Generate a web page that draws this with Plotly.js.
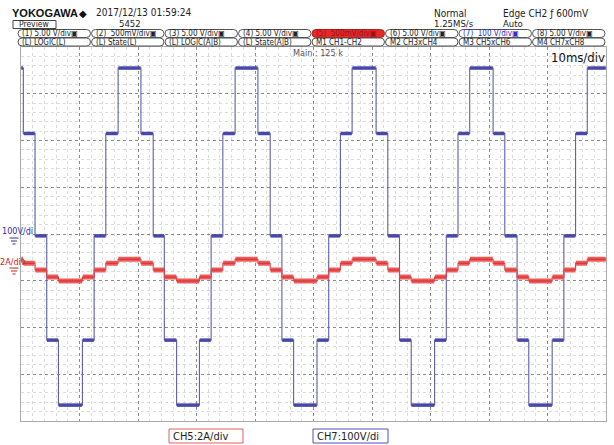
<!DOCTYPE html>
<html><head><meta charset="utf-8">
<script src="https://cdn.plot.ly/plotly-3.0.1.min.js"></script>
<style>html,body{margin:0;padding:0;background:#fff;}#plot{width:614px;height:445px;}</style>
</head><body><div id="plot"></div>
<script>
// ---- data (time in ms, 10 ms/div) ----
const edgeTimes = [0, 0.4, 2.4, 4.4, 6.4, 10.5, 12.5, 14.5,
  16.6, 20.5, 22.6, 24.5, 26.6, 30.5, 32.5, 34.5,
  36.6, 40.5, 42.6, 44.6, 46.6, 50.6, 52.6, 54.6,
  56.6, 60.7, 62.7, 64.7, 66.7, 70.7, 72.7, 74.7,
  76.7, 80.7, 82.7, 84.8, 86.8, 90.8, 92.8, 94.8,
  96.8, 100];
// CH7 voltage (V) for each segment between edges
const ch7Volts = [355, 215, -4, -227, -366, -227, -4, 215,
  355, 215, -4, -227, -366, -227, -4, 215,
  355, 215, -4, -227, -366, -227, -4, 215,
  355, 215, -4, -227, -366, -227, -4, 215,
  355, 215, -4, -227, -366, -227, -4, 215,
  355];
// CH5 current (A) for each segment between edges
const ch5Amps = [0.46, 0.29, 0, -0.30, -0.47, -0.30, 0, 0.29,
  0.46, 0.29, 0, -0.30, -0.47, -0.30, 0, 0.29,
  0.46, 0.29, 0, -0.30, -0.47, -0.30, 0, 0.29,
  0.46, 0.29, 0, -0.30, -0.47, -0.30, 0, 0.29,
  0.46, 0.29, 0, -0.30, -0.47, -0.30, 0, 0.29,
  0.46];
const row1Labels = ["(1) 5.00 V/div▣", "(2)  500mV/div▣", "(3) 5.00 V/div▣", "(4) 5.00 V/div▣",
  "(5)  500mV/div▣", "(6) 5.00 V/div▣", "(7)  100 V/div▣", "(8) 5.00 V/div▣"];
const row2Labels = ["(L) LOGIC(L)", "(L) State(L)", "(L) LOGIC(A|B)", "(L) State(A|B)",
  "M1 CH1-CH2", "M2 CH3xCH4", "M3 CH5xCH6", "M4 CH7xCH8"];

// ---- build step traces ----
function steps(vals){
  const x=[], y=[];
  for(let i=0;i<vals.length;i++){x.push(edgeTimes[i], edgeTimes[i+1]); y.push(vals[i], vals[i]);}
  return {x, y};
}
function plateaus(vals){
  const x=[], y=[];
  for(let i=0;i<vals.length;i++){x.push(edgeTimes[i]+0.05, edgeTimes[i+1]-0.05, null); y.push(vals[i], vals[i], null);}
  return {x, y};
}
const bS = steps(ch7Volts), bP = plateaus(ch7Volts);
const rS = steps(ch5Amps), rP = plateaus(ch5Amps);

const traces = [
  {x:bS.x, y:bS.y, mode:'lines', line:{color:'rgb(95,95,165)', width:1.1}, hoverinfo:'skip', yaxis:'y'},
  {x:bP.x, y:bP.y, mode:'lines', line:{color:'rgb(72,72,170)', width:3.5}, hoverinfo:'skip', yaxis:'y', connectgaps:false},
  {x:rS.x, y:rS.y, mode:'lines', line:{color:'rgb(225,60,60)', width:1.1}, hoverinfo:'skip', yaxis:'y2'},
  {x:rP.x, y:rP.y, mode:'lines', line:{color:'rgb(242,90,90)', width:5}, hoverinfo:'skip', yaxis:'y2', connectgaps:false},
  {x:rP.x, y:rP.y, mode:'lines', line:{color:'rgb(190,40,40)', width:0.8}, hoverinfo:'skip', yaxis:'y2', connectgaps:false}
];

// ---- pixel -> paper helpers ----
const L=21, R=606, T=47, B=421;
function X(px){return (px-L)/(R-L);}
function Y(py){return (B-py)/(B-T);}
const FN = "Liberation Sans Narrow, DejaVu Sans Condensed, Arial Narrow, sans-serif";
const ann=[], shp=[];
function txt(s, px, py, size, color, anchor, family, bold){
  ann.push({text: bold?('<b>'+s+'</b>'):s, x:X(px), y:Y(py), xref:'paper', yref:'paper',
    xanchor:anchor||'left', yanchor:'middle', showarrow:false, borderpad:0,
    font:{family:family||FN, size:size, color:color||'#222'}});
}
function rbox(x0,y0,x1,y1,fill,line){
  const ym=(y0+y1)/2, r=4;
  const p=`M ${X(x0+r)},${Y(y0)} L ${X(x1-r)},${Y(y0)} Q ${X(x1)},${Y(y0)} ${X(x1)},${Y(ym)} Q ${X(x1)},${Y(y1)} ${X(x1-r)},${Y(y1)} L ${X(x0+r)},${Y(y1)} Q ${X(x0)},${Y(y1)} ${X(x0)},${Y(ym)} Q ${X(x0)},${Y(y0)} ${X(x0+r)},${Y(y0)} Z`;
  shp.push({type:'path', path:p, xref:'paper', yref:'paper', fillcolor:fill||'rgba(0,0,0,0)', line:{color:line||'#555', width:1}});
}
function rect(x0,y0,x1,y1,line){
  shp.push({type:'rect', xref:'paper', yref:'paper', x0:X(x0), x1:X(x1), y0:Y(y1), y1:Y(y0), line:{color:line, width:1}, fillcolor:'rgba(0,0,0,0)'});
}
function ground(cx, cy, color){
  const w=[9,6,3];
  for(let i=0;i<3;i++){
    shp.push({type:'line', xref:'paper', yref:'paper', x0:X(cx-w[i]/2), x1:X(cx+w[i]/2), y0:Y(cy+i*3), y1:Y(cy+i*3), line:{color:color, width:1}});
  }
}

// header
txt('YOKOGAWA', 11, 13.5, 11, '#111', 'left', 'Liberation Sans, Arial, sans-serif', true);
txt('◆', 78, 13.5, 10, '#111', 'left', 'DejaVu Sans');
txt('2017/12/13 01:59:24', 95, 12.5, 10, '#222');
rect(13, 20.5, 56, 28.5, '#444');
txt('Preview', 18, 24, 8.5, '#222');
txt('5452', 118, 23.5, 9.5, '#222');
txt('Normal', 433, 13, 10, '#222');
txt('1.25MS/s', 433, 23.5, 9.5, '#222');
txt('Edge CH2 ƒ 600mV', 502, 13, 10, '#222');
txt('Auto', 502, 23.5, 9.5, '#222');

const bx0=18, bw=73.5;
for(let i=0;i<8;i++){
  const x0=bx0+i*bw, x1=x0+bw-1;
  if(i===4) rbox(x0,29.5,x1,37.5,'rgb(232,40,40)','#b02020'); else rbox(x0,29.5,x1,37.5,null,'#555');
  rbox(x0,38,x1,46,null,'#555');
  const c = i===4 ? '#9a1010' : (i===6 ? '#3030c0' : '#222');
  txt(row1Labels[i], x0+3, 33.6, 8, c);
  txt(row2Labels[i], x0+3, 42.2, 8, '#222');
}
txt('Main : 125 k', 292, 53, 9, '#555');
txt('10ms/div', 606, 57, 13, '#111', 'right');

// channel markers on left
txt('100V/di', 1, 231, 9, '#3030a0', 'left');
ground(14, 238, '#3030a0');
txt('2A/div', -1, 262, 9, '#d02020', 'left');
ground(14, 268, '#d02020');

// bottom channel boxes
rect(169, 429, 243, 443, '#e06060');
txt('CH5:2A/div', 172, 436, 11, '#222');
rect(313, 429, 388, 443, '#5050c0');
txt('CH7:100V/di', 316, 436, 11, '#222');

const layout = {
  width:614, height:445,
  margin:{l:L, r:614-R, t:T, b:445-B, pad:0},
  paper_bgcolor:'#fff', plot_bgcolor:'#fff',
  showlegend:false,
  xaxis:{range:[0,100], dtick:10, tick0:0, showticklabels:false, ticks:'',
    showgrid:true, gridcolor:'#8a8a8a', griddash:'dot', gridwidth:1, zeroline:false,
    showline:true, mirror:true, linecolor:'#aaa', linewidth:1,
    minor:{dtick:2, tick0:0, showgrid:true, gridcolor:'#dcdcdc', gridwidth:1}},
  yaxis:{range:[-400,400], dtick:100, tick0:0, showticklabels:false, ticks:'',
    showgrid:true, gridcolor:'#8a8a8a', griddash:'dot', gridwidth:1, zeroline:false,
    showline:true, mirror:true, linecolor:'#aaa', linewidth:1,
    minor:{dtick:20, tick0:0, showgrid:true, gridcolor:'#dcdcdc', gridwidth:1}},
  yaxis2:{range:[-6.46, 9.54], overlaying:'y', visible:false, showgrid:false, zeroline:false},
  annotations:ann, shapes:shp
};
Plotly.newPlot('plot', traces, layout, {staticPlot:true, displayModeBar:false});
</script></body></html>
